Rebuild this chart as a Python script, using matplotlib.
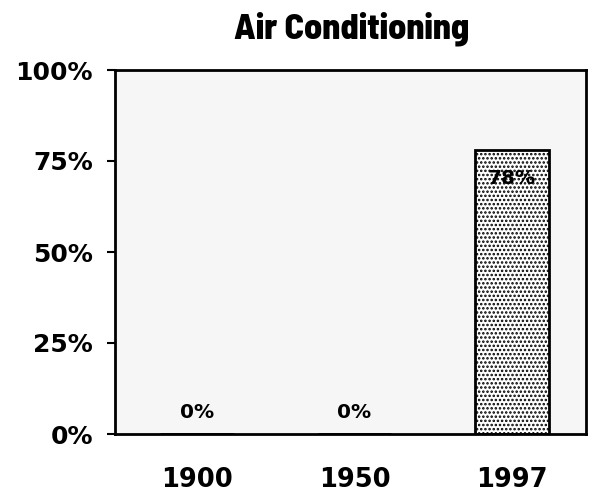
import matplotlib
matplotlib.use("Agg")
import matplotlib.pyplot as plt

years = ["1900", "1950", "1997"]
values = [0, 0, 78]
labels = ["0%", "0%", "78%"]
yticks = [0, 25, 50, 75, 100]
ytick_labels = ["0%", "25%", "50%", "75%", "100%"]
title = "Air Conditioning"

plt.rcParams['hatch.linewidth'] = 1.2
fig = plt.figure(figsize=(5.92, 4.95), dpi=100)
ax = fig.add_axes([115/592, 1-434/495, 471/592, 364/495])
ax.set_facecolor("#f6f6f6")

x = list(range(len(years)))
bars = ax.bar(x, values, width=0.465, facecolor="white", edgecolor="black",
              linewidth=2, hatch="....", zorder=2)
ax.set_xlim(-0.52, 2.47)
ax.set_ylim(0, 100)

for xi, v, lab in zip(x, values, labels):
    ypos = v - 7.7 if v > 10 else 6
    ax.text(xi, ypos, lab, ha="center", va="center", fontsize=14.5,
            fontweight="bold", family="DejaVu Sans", zorder=3)

ax.set_yticks(yticks)
ax.set_yticklabels(ytick_labels, fontsize=18, fontweight="bold", family="DejaVu Sans")
ax.set_xticks(x)
ax.set_xticklabels(years, fontsize=18.5, fontweight="bold", family="DejaVu Sans")
ax.tick_params(axis="y", length=6, width=1.5, pad=10)
ax.tick_params(axis="x", length=0, pad=24)
for s in ax.spines.values():
    s.set_linewidth(2)

fig.text(352/592, 1-38/495, title, ha="center", va="baseline", fontsize=26,
         fontweight=800, family=["Barlow Semi Condensed", "DejaVu Sans"])

fig.savefig("out.png", dpi=100)
